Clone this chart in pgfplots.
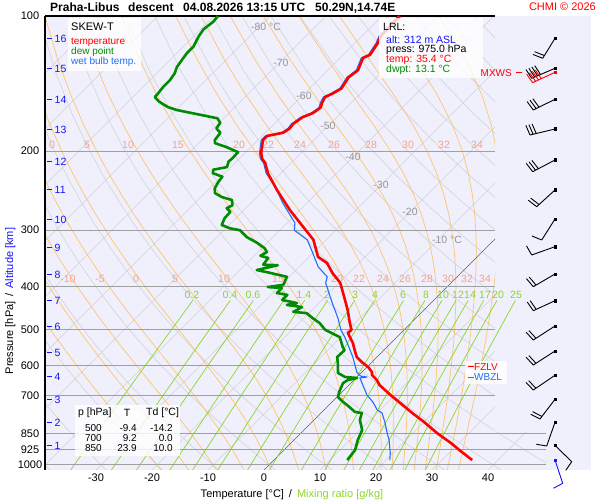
\documentclass[border=0pt]{standalone}
\usepackage{fontspec}
\setmainfont{Liberation Sans}
\usepackage{pgfplots}
\usepackage{pgfplotstable}
\pgfplotsset{compat=1.18}

\definecolor{bgc}{RGB}{240,240,252}
\definecolor{isoc}{RGB}{210,210,216}
\definecolor{barc}{RGB}{160,160,160}
\definecolor{moistc}{RGB}{255,196,110}
\definecolor{moistl}{RGB}{250,160,135}
\definecolor{mixc}{RGB}{140,214,40}
\definecolor{tc}{RGB}{255,0,0}
\definecolor{dc}{RGB}{0,140,0}
\definecolor{wc}{RGB}{30,110,255}
\definecolor{altc}{RGB}{20,20,255}
\definecolor{labc}{RGB}{150,150,150}
\definecolor{zeroc}{RGB}{95,95,105}

\newcommand\fs[1]{\fontsize{#1}{#1}\selectfont}
\tikzset{tn/.style={inner sep=0pt}}

% temperature profile (p in hPa, T in degC)
\pgfplotstableread{
p T
975 35.4
926 31.3
895 28.7
850 24.4
801 19.9
767 16.4
730 12.6
698.5 9.2
664 5.5
647 4.1
630 2.3
621 1.8
605 0.2
590 -1.8
575 -3.6
555 -5.2
535 -6.8
508 -9.5
500 -9.4
483 -10.9
452 -13.6
429 -15.9
393 -19.8
374 -22.9
355 -25.7
344 -28.4
315 -32.3
295 -36.4
270.5 -41.8
244 -47.7
224 -52.3
212.5 -54.6
208 -55.9
202 -57.1
196 -58.0
189 -59.1
185 -59.1
182 -56.8
178 -56.4
174 -56.6
168 -56.1
164.5 -55.0
160 -54.6
156 -55.2
151.5 -55.7
149 -55.0
145 -54.3
137 -55.0
132 -54.6
124 -55.9
122 -55.2
115 -55.9
111 -56.6
100 -56.8
}\temptab

% dew point profile
\pgfplotstableread{
p T
975 13.1
926 12.7
880 11.4
836 10.4
794 8.2
766 7.3
762 5.9
735 3.2
724 2.0
706 0.2
688 -0.5
657 -1.4
647 -1.1
640 0.2
637 -2.1
624 -4.1
593 -5.9
575 -7.1
555 -7.0
546 -7.9
519 -10.2
500 -14.1
483 -16.3
471 -18.4
459 -20.4
456 -23.0
445 -22.3
440 -25.4
436 -23.9
429 -27.1
418 -27.1
414 -29.3
403.5 -29.3
401.5 -32.0
397 -29.6
381 -30.4
372 -34.8
368 -37.0
359 -34.1
358 -36.8
346 -37.1
342 -38.9
335.5 -38.4
329 -39.5
320 -41.8
311 -44.6
300 -47.1
297 -49.3
292 -51.3
282 -52.0
273 -52.1
268 -53.4
264 -52.9
257 -53.9
253 -56.3
248 -58.2
242 -59.1
234 -59.6
228 -59.8
224 -62.1
220 -62.7
217 -60.7
211 -61.4
207 -61.3
201 -61.4
196 -64.3
192 -67.1
189 -67.7
182 -68.0
178 -69.5
173 -69.8
169 -71.1
166 -74.8
162 -79.8
159.5 -82.0
155 -84.6
151.5 -86.1
150 -86.1
144 -86.4
139 -86.4
134 -86.8
130 -87.5
125 -87.9
121 -88.2
117 -88.2
111 -89.1
107 -89.5
103 -89.1
100 -89.3
}\dewtab

% wet bulb temperature profile
\pgfplotstableread{
p T
975 20.7
940 19.5
880 17.0
849 15.4
802 13.0
766 10.9
754 9.5
724 7.3
698.5 5.0
664 2.5
640 0.7
637 1.8
634 0.5
621 -0.9
575 -4.3
546 -6.8
519 -9.3
500 -11.3
470 -14.0
436 -17.6
393 -22.4
381 -23.2
362 -26.6
332 -30.8
315 -33.4
300 -37.4
289 -38.6
261 -44.3
240 -48.6
224 -52.6
212.5 -54.9
208 -56.2
202 -57.4
196 -58.3
189 -59.4
185 -59.4
182 -57.1
178 -56.7
174 -56.9
168 -56.4
164.5 -55.3
160 -54.9
156 -55.5
151.5 -56.0
149 -55.3
145 -54.6
137 -55.3
132 -54.9
124 -56.2
122 -55.5
115 -56.2
111 -56.9
100 -57.1
}\wettab

% ---- saturated (pseudo) adiabats, integrated step by step ----
\newcommand\fmoist[2]{%
  \pgfmathsetmacro\mtc{#1-273.15}%
  \pgfmathsetmacro\mes{6.112*exp(17.67*\mtc/(\mtc+243.5))}%
  \pgfmathsetmacro\mrs{0.622*\mes/(#2-\mes)}%
  \pgfmathsetmacro\mth{#1/100}%
  \pgfmathsetmacro\fres{(1+87.11*\mrs/\mth)/(1+1349*\mrs/(\mth*\mth))}%
}
\newcommand\moistline[1]{%
  \pgfmathsetmacro\mT{#1+273.15}%
  \fmoist{\mT}{1000}%
  \pgfmathsetmacro\mTb{\mT*exp(0.2857*\fres*0.025668)}%
  \pgfmathsetmacro\mX{\mTb-273.15}%
  \edef\mlist{(\mX,3.011147)}%
  \pgfmathsetmacro\mX{\mT-273.15+0.8938}%
  \edef\mlist{\mlist\space(\mX,3)}%
  \def\mpold{1000}%
  \pgfplotsforeachungrouped \mpr in {975,950,925,900,875,850,825,800,775,750,725,700,675,650,625,600,575,550,525,500,475,450,425,400,375,350,325,300,275,250,225,200,175,150,125,100}{%
    \fmoist{\mT}{\mpold}\let\fzero\fres
    \pgfmathsetmacro\mdl{ln(\mpr/\mpold)}%
    \pgfmathsetmacro\mTp{\mT*exp(0.2857*\fzero*\mdl)}%
    \fmoist{\mTp}{\mpr}%
    \pgfmathsetmacro\mT{\mT*exp(0.14285*(\fzero+\fres)*\mdl)}%
    \pgfmathsetmacro\mX{\mT-273.15+80.179*log10(1026/\mpr)}%
    \pgfmathsetmacro\mLy{log10(\mpr)}%
    \edef\mlist{\mlist\space(\mX,\mLy)}%
    \edef\mpold{\mpr}%
  }%
}
\newcommand\mkmoist[1]{\moistline{#1}\expandafter\global\expandafter\let\csname ml#1\endcsname\mlist}

% background line families (isotherms, dry adiabats, saturated adiabats); y = log10(p)
\newcommand\bglines{%
  \pgfplotsinvokeforeach{-120,-110,-100,-90,-80,-70,-60,-50,-40,-30,-20,-10,10,20,30,40}{%
    \addplot[isoc, line width=0.6pt, domain=0:1, samples=2] ({##1+81.07*x},{3.011147-1.011147*x});}%
  \pgfplotsinvokeforeach{-40,-30,-20,-10,0,10,20,30,40,50,60,70,80,90,100,110,120,130,140,150,160,170,180}{%
    \addplot[isoc, line width=0.6pt, domain=100:1026, samples=30, variable=\q]
      ({(##1+273.15)*(\q/1000)^0.2857-273.15+80.179*log10(1026/\q)},{log10(\q)});}%
  \pgfplotsinvokeforeach{-20,-15,-10,-5,0,5,10,15,20,22,24,26,28,30,32,34}{%
    \edef\tmp{\noexpand\addplot[moistc, line width=0.7pt] coordinates {\csname ml##1\endcsname};}\tmp}%
  \addplot[zeroc, line width=0.6pt, domain=0:1, samples=2] ({81.07*x},{3.011147-1.011147*x});%
}

% ---- wind barb (pixel frame) ----
\newcommand\barb[6]{%
  \pgfmathsetmacro\ba{atan2(#4-(#2),#3-(#1))}%
  \pgfmathsetmacro\bux{cos(\ba)}%
  \pgfmathsetmacro\buy{sin(\ba)}%
  \pgfmathsetmacro\bvx{10.5*cos(\ba+80)}%
  \pgfmathsetmacro\bvy{10.5*sin(\ba+80)}%
  \edef\blist{(#1,#2) (#3,#4)}%
  \pgfplotsforeachungrouped \bk in {#5}{%
    \pgfmathsetmacro\bbx{#3-(\bk-1)*3.2*\bux}%
    \pgfmathsetmacro\bby{#4-(\bk-1)*3.2*\buy}%
    \pgfmathsetmacro\bex{\bbx+\bvx}%
    \pgfmathsetmacro\bey{\bby+\bvy}%
    \edef\blist{\blist\space(nan,nan) (\bbx,\bby) (\bex,\bey)}%
  }%
  \edef\tmp{\noexpand\addplot[#6, line width=0.9pt, unbounded coords=jump] coordinates {\blist};}\tmp
  \addplot[#6, only marks, mark=square*, mark size=1.3pt] coordinates {(#1,#2)};
}

\begin{document}
\begin{tikzpicture}
\path[use as bounding box] (0,0) rectangle (600pt,500pt);
\mkmoist{-20}\mkmoist{-15}\mkmoist{-10}\mkmoist{-5}\mkmoist{0}\mkmoist{5}\mkmoist{10}\mkmoist{15}
\mkmoist{20}\mkmoist{22}\mkmoist{24}\mkmoist{26}\mkmoist{28}\mkmoist{30}\mkmoist{32}\mkmoist{34}

% ===== background fill =====
\begin{axis}[at={(45pt,30pt)}, anchor=south west, width=546pt, height=454pt, scale only axis,
    xmin=-39.107, xmax=58.393, ymin=2, ymax=3.011147, y dir=reverse,
    axis line style={draw=none}, ticks=none, axis background/.style={fill=bgc}]
\addplot[draw=none] coordinates {(0,2.5) (1,2.5)};
\end{axis}
% ===== diagram lines, clipped to the diagram area =====
\begin{axis}[at={(45pt,30pt)}, anchor=south west, width=450pt, height=454pt, scale only axis,
    xmin=-39.107, xmax=41.25, ymin=2, ymax=3.011147, y dir=reverse,
    axis line style={draw=none}, ticks=none]
\bglines
\end{axis}
\begin{axis}[at={(495pt,30pt)}, anchor=south west, width=51pt, height=37.8pt, scale only axis,
    xmin=41.25, xmax=50.357, ymin=2.926960, ymax=3.011147, y dir=reverse,
    axis line style={draw=none}, ticks=none]
\bglines
\end{axis}
% ===== mixing ratio lines and isobars =====
\begin{axis}[at={(45pt,30pt)}, anchor=south west, width=546pt, height=454pt, scale only axis,
    xmin=-39.107, xmax=58.393, ymin=2, ymax=3.011147, y dir=reverse,
    axis line style={draw=none}, ticks=none, clip=false]
\pgfplotsinvokeforeach{0.2,0.4,0.6,1,1.4,2,3,4,6,8,10,12,14,17,20,25}{%
  \addplot[mixc, line width=0.7pt, domain=430:1026, samples=12, variable=\q]
   ({243.5*ln(#1*\q/(622+#1)/6.112)/(17.67-ln(#1*\q/(622+#1)/6.112))+80.179*log10(1026/\q)},{log10(\q)});}
\pgfplotsinvokeforeach{2.30103,2.47712,2.60206,2.69897,2.77815,2.84510}{%
  \addplot[barc, line width=1pt] coordinates {(-39.107,#1) (41.25,#1)};}
\pgfplotsinvokeforeach{2.92942,2.96614,3}{%
  \addplot[barc, line width=1pt] coordinates {(-39.107,#1) (50.36,#1)};}
\end{axis}

% ===== labels on the diagram, frame, ticks =====
\begin{axis}[at={(0pt,0pt)}, anchor=south west, width=600pt, height=500pt,
    scale only axis, xmin=0, xmax=600, ymin=0, ymax=500, y dir=reverse,
    hide axis, clip=false]
\draw[black, line width=1.2pt] (axis cs:45,16) -- (axis cs:45,470);
\draw[black, line width=1.2pt] (axis cs:45,16) -- (axis cs:495,16);
% isotherm labels
\node[tn, labc, font=\fs{10.5}] at (axis cs:266,27) {-80 °C};
\node[tn, labc, font=\fs{10.5}] at (axis cs:281,63) {-70};
\node[tn, labc, font=\fs{10.5}] at (axis cs:304,96) {-60};
\node[tn, labc, font=\fs{10.5}] at (axis cs:328,126) {-50};
\node[tn, labc, font=\fs{10.5}] at (axis cs:353,157) {-40};
\node[tn, labc, font=\fs{10.5}] at (axis cs:381,185) {-30};
\node[tn, labc, font=\fs{10.5}] at (axis cs:410,212) {-20};
\node[tn, labc, font=\fs{10.5}] at (axis cs:447,240) {-10 °C};
% saturated adiabat labels
\node[tn, moistl, font=\fs{10.5}] at (axis cs:52,145) {0};
\node[tn, moistl, font=\fs{10.5}] at (axis cs:87,145) {5};
\node[tn, moistl, font=\fs{10.5}] at (axis cs:128,145) {10};
\node[tn, moistl, font=\fs{10.5}] at (axis cs:178,145) {15};
\node[tn, moistl, font=\fs{10.5}] at (axis cs:239,145) {20};
\node[tn, moistl, font=\fs{10.5}] at (axis cs:268,145) {22};
\node[tn, moistl, font=\fs{10.5}] at (axis cs:300,145) {24};
\node[tn, moistl, font=\fs{10.5}] at (axis cs:334,145) {26};
\node[tn, moistl, font=\fs{10.5}] at (axis cs:371,145) {28};
\node[tn, moistl, font=\fs{10.5}] at (axis cs:408,145) {30};
\node[tn, moistl, font=\fs{10.5}] at (axis cs:444,145) {32};
\node[tn, moistl, font=\fs{10.5}] at (axis cs:477,145) {34};
\node[tn, moistl, font=\fs{10.5}] at (axis cs:68,279) {-10};
\node[tn, moistl, font=\fs{10.5}] at (axis cs:100,279) {-5};
\node[tn, moistl, font=\fs{10.5}] at (axis cs:136,279) {0};
\node[tn, moistl, font=\fs{10.5}] at (axis cs:175,279) {5};
\node[tn, moistl, font=\fs{10.5}] at (axis cs:224,279) {10};
\node[tn, moistl, font=\fs{10.5}] at (axis cs:278,279) {15};
\node[tn, moistl, font=\fs{10.5}] at (axis cs:337,279) {20};
\node[tn, moistl, font=\fs{10.5}] at (axis cs:359,279) {22};
\node[tn, moistl, font=\fs{10.5}] at (axis cs:383,279) {24};
\node[tn, moistl, font=\fs{10.5}] at (axis cs:405,279) {26};
\node[tn, moistl, font=\fs{10.5}] at (axis cs:427,279) {28};
\node[tn, moistl, font=\fs{10.5}] at (axis cs:448,279) {30};
\node[tn, moistl, font=\fs{10.5}] at (axis cs:467,279) {32};
\node[tn, moistl, font=\fs{10.5}] at (axis cs:485,279) {34};
% mixing ratio labels
\node[tn, mixc, font=\fs{10.5}] at (axis cs:192,295) {0.2};
\node[tn, mixc, font=\fs{10.5}] at (axis cs:230,295) {0.4};
\node[tn, mixc, font=\fs{10.5}] at (axis cs:253,295) {0.6};
\node[tn, mixc, font=\fs{10.5}] at (axis cs:284,295) {1};
\node[tn, mixc, font=\fs{10.5}] at (axis cs:304,295) {1.4};
\node[tn, mixc, font=\fs{10.5}] at (axis cs:327,295) {2};
\node[tn, mixc, font=\fs{10.5}] at (axis cs:355,295) {3};
\node[tn, mixc, font=\fs{10.5}] at (axis cs:375,295) {4};
\node[tn, mixc, font=\fs{10.5}] at (axis cs:403,295) {6};
\node[tn, mixc, font=\fs{10.5}] at (axis cs:426,295) {8};
\node[tn, mixc, font=\fs{10.5}] at (axis cs:443,295) {10};
\node[tn, mixc, font=\fs{10.5}] at (axis cs:458,295) {12};
\node[tn, mixc, font=\fs{10.5}] at (axis cs:470,295) {14};
\node[tn, mixc, font=\fs{10.5}] at (axis cs:485,295) {17};
\node[tn, mixc, font=\fs{10.5}] at (axis cs:498,295) {20};
\node[tn, mixc, font=\fs{10.5}] at (axis cs:516,295) {25};
% pressure tick labels
\node[tn, font=\fs{11}] at (axis cs:30,16) {100};
\node[tn, font=\fs{11}] at (axis cs:30,151.2) {200};
\node[tn, font=\fs{11}] at (axis cs:30,230.2) {300};
\node[tn, font=\fs{11}] at (axis cs:30,286.3) {400};
\node[tn, font=\fs{11}] at (axis cs:30,329.8) {500};
\node[tn, font=\fs{11}] at (axis cs:30,365.4) {600};
\node[tn, font=\fs{11}] at (axis cs:30,395.4) {700};
\node[tn, font=\fs{11}] at (axis cs:30,433.3) {850};
\node[tn, font=\fs{11}] at (axis cs:30,449.8) {925};
\node[tn, font=\fs{11}] at (axis cs:30,465) {1000};
% temperature tick labels
\node[tn, font=\fs{11}] at (axis cs:96,478) {-30};
\node[tn, font=\fs{11}] at (axis cs:152,478) {-20};
\node[tn, font=\fs{11}] at (axis cs:208,478) {-10};
\node[tn, font=\fs{11}] at (axis cs:264,478) {0};
\node[tn, font=\fs{11}] at (axis cs:320,478) {10};
\node[tn, font=\fs{11}] at (axis cs:376,478) {20};
\node[tn, font=\fs{11}] at (axis cs:432,478) {30};
\node[tn, font=\fs{11}] at (axis cs:488,478) {40};
% altitude ticks
\node[tn, anchor=west, altc, font=\fs{10.5}] at (axis cs:47,39.3) {\rule[3.5pt]{5pt}{1pt}\hspace{2.5pt}16};
\node[tn, anchor=west, altc, font=\fs{10.5}] at (axis cs:47,69) {\rule[3.5pt]{5pt}{1pt}\hspace{2.5pt}15};
\node[tn, anchor=west, altc, font=\fs{10.5}] at (axis cs:47,100) {\rule[3.5pt]{5pt}{1pt}\hspace{2.5pt}14};
\node[tn, anchor=west, altc, font=\fs{10.5}] at (axis cs:47,130) {\rule[3.5pt]{5pt}{1pt}\hspace{2.5pt}13};
\node[tn, anchor=west, altc, font=\fs{10.5}] at (axis cs:47,161.5) {\rule[3.5pt]{5pt}{1pt}\hspace{2.5pt}12};
\node[tn, anchor=west, altc, font=\fs{10.5}] at (axis cs:47,190) {\rule[3.5pt]{5pt}{1pt}\hspace{2.5pt}11};
\node[tn, anchor=west, altc, font=\fs{10.5}] at (axis cs:47,220) {\rule[3.5pt]{5pt}{1pt}\hspace{2.5pt}10};
\node[tn, anchor=west, altc, font=\fs{10.5}] at (axis cs:47,248) {\rule[3.5pt]{5pt}{1pt}\hspace{2.5pt}9};
\node[tn, anchor=west, altc, font=\fs{10.5}] at (axis cs:47,275) {\rule[3.5pt]{5pt}{1pt}\hspace{2.5pt}8};
\node[tn, anchor=west, altc, font=\fs{10.5}] at (axis cs:47,300.5) {\rule[3.5pt]{5pt}{1pt}\hspace{2.5pt}7};
\node[tn, anchor=west, altc, font=\fs{10.5}] at (axis cs:47,327) {\rule[3.5pt]{5pt}{1pt}\hspace{2.5pt}6};
\node[tn, anchor=west, altc, font=\fs{10.5}] at (axis cs:47,352.7) {\rule[3.5pt]{5pt}{1pt}\hspace{2.5pt}5};
\node[tn, anchor=west, altc, font=\fs{10.5}] at (axis cs:47,376.7) {\rule[3.5pt]{5pt}{1pt}\hspace{2.5pt}4};
\node[tn, anchor=west, altc, font=\fs{10.5}] at (axis cs:47,400) {\rule[3.5pt]{5pt}{1pt}\hspace{2.5pt}3};
\node[tn, anchor=west, altc, font=\fs{10.5}] at (axis cs:47,423.3) {\rule[3.5pt]{5pt}{1pt}\hspace{2.5pt}2};
\node[tn, anchor=west, altc, font=\fs{10.5}] at (axis cs:47,445.7) {\rule[3.5pt]{5pt}{1pt}\hspace{2.5pt}1};
% axis titles
\node[tn, anchor=base, font=\fs{11}] at (axis cs:292,497) {Temperature [°C]\hspace{5pt}/\hspace{5pt}\textcolor{mixc}{Mixing ratio [g/kg]}};
\node[tn, anchor=base, rotate=90, font=\fs{11}] at (axis cs:13,301) {Pressure [hPa]\hspace{5pt}/\hspace{5pt}\textcolor{altc}{Altitude [km]}};
% title
\node[tn, anchor=base west, font=\fs{12}\bfseries] at (axis cs:50,12) {Praha-Libus};
\node[tn, anchor=base west, font=\fs{12}\bfseries] at (axis cs:128,12) {descent};
\node[tn, anchor=base west, font=\fs{12}\bfseries] at (axis cs:183,12) {04.08.2026 13:15 UTC};
\node[tn, anchor=base west, font=\fs{12}\bfseries] at (axis cs:315,12) {50.29N,14.74E};
\node[tn, anchor=base east, tc, font=\fs{11}] at (axis cs:596,11) {CHMI © 2026};
\end{axis}

% ===== profiles =====
\begin{axis}[at={(45pt,30pt)}, anchor=south west, width=546pt, height=454pt, scale only axis,
    xmin=-39.107, xmax=58.393, ymin=2, ymax=3.011147, y dir=reverse,
    axis line style={draw=none}, ticks=none]
\addplot[wc, line width=1.1pt, line join=round] table[x expr=\thisrow{T}+80.179*log10(1026/\thisrow{p}), y expr=log10(\thisrow{p})] {\wettab};
\addplot[dc, line width=2.6pt, line join=round] table[x expr=\thisrow{T}+80.179*log10(1026/\thisrow{p}), y expr=log10(\thisrow{p})] {\dewtab};
\addplot[tc, line width=2.6pt, line join=round] table[x expr=\thisrow{T}+80.179*log10(1026/\thisrow{p}), y expr=log10(\thisrow{p})] {\temptab};
\end{axis}

% ===== boxes, texts, wind barbs =====
\begin{axis}[at={(0pt,0pt)}, anchor=south west, width=600pt, height=500pt,
    scale only axis, xmin=0, xmax=600, ymin=0, ymax=500, y dir=reverse,
    hide axis, clip=false]
\fill[white, opacity=0.8] (axis cs:68,18) rectangle (axis cs:141,71);
\node[tn, anchor=west, font=\fs{11}] at (axis cs:71,26.5) {SKEW-T};
\node[tn, anchor=west, tc, font=\fs{10}] at (axis cs:71,42) {temperature};
\node[tn, anchor=west, dc, font=\fs{10}] at (axis cs:71,52) {dew point};
\node[tn, anchor=west, wc, font=\fs{10}] at (axis cs:71,62) {wet bulb temp.};

\fill[white, opacity=0.8] (axis cs:379,18) rectangle (axis cs:483,78);
\node[tn, anchor=west, font=\fs{10.5}] at (axis cs:383,27) {LRL:};
\node[tn, anchor=west, altc, font=\fs{10.5}] at (axis cs:386,40) {alt: 312 m ASL};
\node[tn, anchor=west, font=\fs{10.5}] at (axis cs:386,50) {press: 975.0 hPa};
\node[tn, anchor=west, tc, font=\fs{10.5}] at (axis cs:386,60) {temp: 35.4 °C};
\node[tn, anchor=west, dc, font=\fs{10.5}] at (axis cs:386,70) {dwpt: 13.1 °C};

\fill[white, opacity=0.8] (axis cs:75,405) rectangle (axis cs:180,456);
\node[tn, anchor=west, font=\fs{10.5}] at (axis cs:78,413) {p [hPa]};
\node[tn, font=\fs{10.5}] at (axis cs:127,413) {T};
\node[tn, anchor=west, font=\fs{10.5}] at (axis cs:146,413) {Td [°C]};
\node[tn, anchor=east, font=\fs{10}] at (axis cs:102,428.5) {500};
\node[tn, anchor=east, font=\fs{10}] at (axis cs:137,428.5) {-9.4};
\node[tn, anchor=east, font=\fs{10}] at (axis cs:173,428.5) {-14.2};
\node[tn, anchor=east, font=\fs{10}] at (axis cs:102,438.3) {700};
\node[tn, anchor=east, font=\fs{10}] at (axis cs:137,438.3) {9.2};
\node[tn, anchor=east, font=\fs{10}] at (axis cs:173,438.3) {0.0};
\node[tn, anchor=east, font=\fs{10}] at (axis cs:102,448) {850};
\node[tn, anchor=east, font=\fs{10}] at (axis cs:137,448) {23.9};
\node[tn, anchor=east, font=\fs{10}] at (axis cs:173,448) {10.0};

\fill[white, opacity=0.8] (axis cs:465,361) rectangle (axis cs:507,384);
\node[tn, anchor=west, tc, font=\fs{10}] at (axis cs:468,367) {\rule[3.3pt]{6pt}{1pt}FZLV};
\node[tn, anchor=west, wc, font=\fs{10}] at (axis cs:468,377.5) {\rule[3.3pt]{6pt}{1pt}WBZL};

\node[tn, anchor=east, tc, font=\fs{10}] at (axis cs:512,73) {MXWS};
\draw[tc, line width=1pt] (axis cs:516,73) -- (axis cs:522,73);

\barb{555}{38.3}{542.7}{58.3}{1,2}{black}
\barb{555}{68.3}{531.7}{78.3}{1,2,3,4}{black}
\barb{555}{72.3}{532.7}{82.7}{1,2,3,4}{tc}
\barb{555}{99.3}{533.3}{110}{1,2,3}{black}
\barb{555}{129}{530}{135}{1,2,3}{black}
\barb{555}{160}{532.7}{171.7}{1,2,3}{black}
\barb{555}{190}{536.7}{206.7}{1,2}{black}
\barb{555}{219}{541.7}{240}{1}{black}
\barb{555}{246.7}{531.7}{255}{1}{black}
\barb{555}{274}{533.3}{286.7}{1,2}{black}
\barb{555}{300.7}{533.3}{310.7}{1,2}{black}
\barb{555}{326}{533.3}{340}{1,2}{black}
\barb{555}{351}{533.3}{365}{1,2}{black}
\barb{555}{375.3}{533.3}{390}{1,2}{black}
\barb{555}{399.3}{540}{419}{1,2}{black}
\barb{555}{422.3}{546.7}{446}{1}{black}
\barb{555}{445.3}{571.7}{461.7}{1}{black}
\barb{555}{460}{562.7}{483.3}{1}{altc}
\end{axis}
\end{tikzpicture}
\end{document}
